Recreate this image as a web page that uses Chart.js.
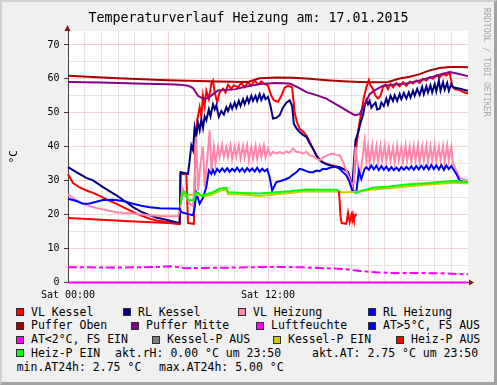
<!DOCTYPE html>
<html>
<head>
<meta charset="utf-8">
<script src="https://cdn.jsdelivr.net/npm/chart.js@4.4.1/dist/chart.umd.min.js"></script>
<style>
  html, body { margin: 0; padding: 0; background: #fff; }
  #wrap { position: relative; width: 497px; height: 385px; background: #f0f0f0; overflow: hidden; font-family: "DejaVu Sans Mono", monospace; }
  #chart { position: absolute; left: 0; top: 0; }
  #title { position: absolute; left: 0; top: 9.5px; width: 497px; text-align: center; font-size: 13.3px; line-height: 16px; color: #000; white-space: pre; }
  #frame { position: absolute; left: 0; top: 0; width: 497px; height: 385px; box-sizing: border-box;
           border-top: 2px solid #d0d0d0; border-left: 2px solid #d0d0d0;
           border-right: 3px solid #a2a2a2; border-bottom: 3px solid #a2a2a2; pointer-events: none; }
  .lg { position: absolute; font-size: 11.5px; line-height: 14px; color: #000; white-space: pre; }
  .sw { position: absolute; width: 6px; height: 6px; border: 1px solid #303030; }
  #credit { position: absolute; left: 482px; top: 8px; writing-mode: vertical-rl; font-size: 8.2px; line-height: 9px; color: #a8a8a8; white-space: pre; }
</style>
</head>
<body>
<div id="wrap">
  <canvas id="chart" width="497" height="300"></canvas>
  <div id="title">Temperaturverlauf Heizung am: 17.01.2015</div>
  <div id="legend"></div>
  <div id="credit">RRDTOOL / TOBI OETIKER</div>
  <div id="frame"></div>
</div>
<script>
const FONT = "'DejaVu Sans Mono', monospace";

// hours of day (0..24) and °C values
const hVLK = [0,0.3,0.7,1.1,1.5,1.9,2.4,2.9,3.4,3.9, 4.4,4.9,5.4,5.9,6.3,6.7,6.75,7.1,7.2,7.55,
  7.65,7.75,7.9,8.0,8.1,8.2,8.3,8.45,8.6,8.7, 8.8,8.95,9.1,9.3,9.45,9.6,9.8,9.95,10.2,10.4,
  10.6,10.8,11.0,11.2,11.4,11.6,11.8,12.0,12.2,12.35, 12.6,12.8,13.0,13.2,13.45,13.6,13.75,13.9,14.1,14.3,
  14.5,14.7,14.9,15.1,15.4,15.7,16.0,16.3,16.6,16.8, 17.0,17.1,17.2,17.3,17.45,17.6,17.75,17.9,18.05,18.15,
  18.3,18.45,18.6,18.75,18.9,19.05,19.2,19.35,19.5,19.7, 19.9,20.1,20.3,20.5,20.7,20.9,21.1,21.3,21.5,21.7,
  21.9,22.1,22.3,22.5,22.7,22.9,23.05,23.2,23.5,23.8, 24];
const vlKessel = [31.9,29.3,28,27.1,26.4,25.5,24.3,23.2,22,20.8, 19.7,18.8,18.2,17.8,17.5,17.2,32,32,17.5,17.3,
  40,47.8,51.7,49,55,52,56.5,54,58.6,59.5, 56,53.2,56,57.1,56,58.3,57,58.1,57.5,58.8,
  57.5,59,58,59.5,58.3,59.3,58.5,58,55,53.7, 53.2,55,57.4,58,57.5,50,47,45.3,44.5,43.4,
  41.5,39.4,37.5,36,35.2,34.7,34.3,34,33.3,32.5, 29.5,28.2,33,40,46,50,54.5,57.5,59.6,58,
  57,55,54.2,55,57.6,58.3,57,58.5,57.5,58.8, 57.8,59,58,59.2,58.6,59.5,58.8,60,59.5,60.5,
  60,61,60.5,61.5,61,61.8,58,57,56.6,56, 55.7];

const hRLK = [0,0.5,1.1,1.5,2.1,2.9,3.4,3.9,4.4,4.9, 5.4,5.9,6.3,6.7,6.75,7.0,7.2,7.3,7.4,7.5,
  7.6,7.7,7.8,7.9,8.0,8.1,8.2,8.3,8.45,8.55, 8.7,8.8,8.9,9.05,9.2,9.35,9.5,9.6,9.75,9.85,
  10.0,10.1,10.25,10.35,10.5,10.6,10.75,10.85,11.0,11.1, 11.25,11.35,11.5,11.6,11.75,11.85,12.0,12.15,12.3,12.5,
  12.7,12.9,13.1,13.3,13.45,13.55,13.7,13.9,14.1,14.3, 14.5,14.7,14.9,15.1,15.4,15.7,16.0,16.3,16.6,16.8,
  16.95,17.05,17.15,17.25,17.4,17.55,17.7,17.8,17.9,18.0, 18.1,18.2,18.3,18.45,18.55,18.7,18.8,18.95,19.1,19.2,
  19.35,19.5,19.6,19.75,19.9,20.0,20.15,20.3,20.45,20.55, 20.7,20.8,20.95,21.1,21.25,21.35,21.5,21.6,21.75,21.85,
  22.0,22.1,22.25,22.35,22.5,22.6,22.75,22.85,23.0,23.1, 23.3,23.6,23.9,24];
const rlKessel = [34,32.5,30.8,30.1,28.1,25.7,24,22.2,20.8,19.8, 19,18.5,18,17.5,32.5,32.3,32,36,40.4,39,
  45.8,43.5,47,44.8,48,45.5,49,47.8,51,49, 52.5,51,52.2,48.8,50.5,49.5,51.7,50.5,52.5,51.2,
  53,51.5,53.5,52,54,52.5,54.5,53,55,53.5, 55,53.5,55.5,53.8,55.3,54,54.7,52,48.3,48.5,
  49.3,51.5,53,53.7,52,46.8,45.5,44.3,43.5,42.9, 41,39.4,37.5,36,35,34.5,34.2,34,33.3,32.5,
  30,28.1,35,41.9,44,47,49.3,52,53.7,52.5, 53.5,51.5,52.2,53,51,51.2,53,52,54.2,52.5,
  55,53.5,55.2,53.5,55.5,54,55.8,54.2,56,54.5, 56.5,55,57,55.3,57.6,55.5,57.8,56,58.1,56,
  58.5,56.3,59.6,56.5,59,56.8,58.8,56.5,58.5,57.5, 57.3,57,56.6,56.6];

const hVLH = [0,0.5,0.9,1.4,1.9,2.4,2.9,3.4,3.9,4.4, 4.9,5.5,6.0,6.6,6.75,6.85,7.0,7.2,7.35,7.5,
  7.6,7.7,7.8,7.95,8.1,8.2,8.35,8.5,8.6,8.75, 8.85,9.0,9.1,9.25,9.35,9.5,9.6,9.75,9.85,10.0,
  10.1,10.25,10.35,10.5,10.6,10.75,10.85,11.0,11.1,11.25, 11.35,11.5,11.6,11.75,11.85,12.0,12.15,12.3,12.5,12.7,
  12.9,13.1,13.3,13.5,13.7,13.9,14.1,14.3,14.5,14.7, 14.9,15.1,15.3,15.5,15.7,15.9,16.1,16.3,16.5,16.7,
  16.9,17.05,17.15,17.25,17.35,17.5,17.6,17.8,17.9,18.0, 18.1,18.25,18.35,18.5,18.6,18.75,18.85,19.0,19.1,19.25,
  19.35,19.5,19.6,19.75,19.85,20.0,20.1,20.25,20.35,20.5, 20.6,20.75,20.85,21.0,21.1,21.25,21.35,21.5,21.6,21.75,
  21.85,22.0,22.1,22.25,22.35,22.5,22.6,22.75,22.85,23.0, 23.1,23.3,23.5,23.75,24];
const vlHeizung = [25.9,24.3,23.2,22.3,21.7,21.2,20.7,20.5,20.3,20.0, 19.8,19.6,19.5,19.5,22,28,26,24.2,23,22.5,
  30,42.9,27.1,35,39.9,28.1,36,44.8,33,40, 35,39.9,37,40.5,37,39.9,37,40.5,36.5,40,
  37,40.4,36.5,40.2,37,40.4,36,40,36.5,40.3, 36.5,40,37,40.4,36.8,39.5,37.5,38.5,38,38.4,
  38,38.6,38.2,39.5,38.5,38.4,38,38.5,37.5,37.2, 36.5,36,36.8,37.3,37.8,38,37.6,37.5,35.5,33,
  30.5,28.1,30,40,36,31,34,41.9,36,40, 35.5,40.4,36,40,35.5,40.2,36,40.4,35.8,40,
  36,39.8,35.5,40.2,36,40,35.6,40.4,36,40, 35.5,40.2,36,40.4,35.6,40,36,40.3,35.5,40,
  36,40.4,35.8,40,36,40.2,35.5,40.4,36,40, 35,33,31,30.3,30];

const hRLH = [0,0.5,0.9,1.3,1.7,2.1,2.7,3.3,3.9,4.4, 4.9,5.5,6.1,6.7,6.8,7.1,7.5,7.6,7.7,7.9,
  8.1,8.3,8.45,8.6,8.7,8.8,8.95,9.1,9.25,9.4, 9.55,9.7,9.85,10.0,10.15,10.3,10.45,10.6,10.75,10.9,
  11.05,11.2,11.35,11.5,11.65,11.8,11.95,12.1,12.25,12.5, 12.8,13.1,13.3,13.5,13.7,13.9,14.1,14.3,14.5,14.7,
  14.9,15.1,15.3,15.5,15.7,15.9,16.1,16.3,16.5,16.7, 16.9,17.05,17.3,17.45,17.6,17.8,17.9,18.05,18.2,18.35,
  18.5,18.65,18.8,18.95,19.1,19.25,19.4,19.55,19.7,19.85, 20.0,20.15,20.3,20.45,20.6,20.75,20.9,21.05,21.2,21.35,
  21.5,21.65,21.8,21.95,22.1,22.25,22.4,22.55,22.7,22.85, 23.0,23.1,23.3,23.5,23.75,24];
const rlHeizung = [24.7,24,23.2,23.3,23.8,24.3,24.4,24,23.2,22.6, 22.2,21.9,21.8,21.7,20.7,20.3,19.8,22,26.2,23.2,
  25,28.1,33,32,33.2,32,33.5,32.6,33.6,32.7, 33.7,32.6,33.5,32.8,33.8,32.7,33.6,32.6,33.7,32.8,
  33.6,32.7,33.8,32.6,33.5,32.8,33.4,31,27.1,29.6, 30,30.5,31,31.8,32.5,33.5,33.2,32.8,32.5,32.5,
  33,32.8,33.5,33.4,33.8,34,34,33.5,32.5,31.6, 29.5,27.1,26.6,33,30.5,33.5,34,33.2,34.5,33.3,
  34.4,33.1,34.3,33.2,34.2,33,34,33.1,33.9,33, 34,33.2,34.1,33.3,34.2,33.2,34.3,33.3,34.4,33.4,
  34.5,33.3,34.6,33.4,34.5,33.3,34.6,33.2,34.5,33.4, 34.3,33.5,32,30,29.6,29.6];

const hPO = [0,3,6,9,10.8,11.5,12.5,13.5,14.5,15.5,16.5,17.5,18.5,19.2,19.9,20.5,21.1,21.7,22.3,22.9,23.5,24];
const pufferOben = [60.9,60.2,59.6,59.2,59.1,60.2,60.4,60.3,60,59.6,59.3,59.1,59.0,59.1,60.1,60.6,61.4,62.5,63.2,63.5,63.5,63.4];

const hPM = [0,2,4,6,6.7,7.2,7.5,7.8,8.1,8.4, 8.7,9.0,9.5,10,10.5,11,11.5,12.5,13.3,13.8,
  14.3,14.9,15.5,16.3,16.8,17.2,17.5,17.8,18.1,18.4, 18.9,19.5,20.3,21.1,21.9,22.5,22.9,23.4,24];
const pufferMitte = [59.1,58.9,58.6,58.4,58.3,58,57.3,55,54.2,54.3, 55.5,56.6,56.8,56.9,57.5,58,58.5,58.8,58.6,57.5,
  56.1,55.2,54.2,51.9,50.4,49.3,49.6,52.5,55.5,56.6, 58,58.3,58.6,59.5,60.6,61.5,62,61.5,60.8];

const hLF = [0, 24];
const luftfeuchte = [0, 0];

const hAT = [0,3,5.5,6.1,6.5,7,8,10,12,14,15.5,16.5,17.5,18.5,19.5,21,22.5,24];
const aussen = [4.5,4.4,4.6,4.8,4.6,4.2,4.3,4.4,4.6,4.5,4.2,4.0,3.4,3.0,2.8,2.8,2.7,2.4];

const hKPE = [6.8,7.0,7.6,7.8,8.3,8.7,9.1,9.5,9.6,10.5,11.5,12.5,13.3,14.3,15.2,16.1,16.5,17.0,17.4,18.3,19.3,20.3,21.3,22.3,23.2,24];
const kesselPEin = [25.5,25.8,25.8,25.8,25.5,26,27,27.4,26,25.9,25.5,26,26.4,26.9,26.8,26.8,26.5,26.7,26.8,27.4,27.8,28.3,28.7,29.1,29.4,29.2];

const hHPA = [0,2,4,6,6.7,6.72,16.25,16.3,16.35,16.42,16.7,16.8,16.9,17.0,17.05,17.1,17.15,17.3];
const heizPAus = [19,18.5,18,17.5,17.2,null,27,24,19.5,17.5,17.3,20.5,17.8,19.8,18.5,20,18.8,20.3];

const hHPE = [6.75,6.9,7.05,7.2,7.55,7.65,7.8,8.0,8.3,8.7, 9.1,9.5,9.6,10.5,11.5,12.5,13.3,14.3,15.2,16.1,
  16.25,16.3,17.2,17.6,18.3,19.3,20.3,21.3,22.3,23.2, 24];
const heizPEin = [23,26.5,26.7,24.2,24.2,26.2,26.5,25.5,26,26.6, 27.6,27.9,26.6,26.4,26.2,26.6,26.9,27.4,27.3,27.3,
  27,null,26.2,27,27.9,28.3,28.9,29.2,29.6,29.9, 29.6];

const seriesNames = ["VL Kessel", "RL Kessel", "VL Heizung", "RL Heizung", "Puffer Oben", "Puffer Mitte",
  "Luftfeuchte", "AT>5°C, FS AUS", "AT<2°C, FS EIN", "Kessel-P AUS", "Kessel-P EIN", "Heiz-P AUS", "Heiz-P EIN"];
const seriesColors = ["#ff0000", "#000080", "#ff88aa", "#0000ff", "#aa0000", "#880088",
  "#ff00ff", "#0000ff", "#ff00ff", "#808080", "#cccc00", "#ff0000", "#00ff00"];
const seriesHours = [hVLK, hRLK, hVLH, hRLH, hPO, hPM, hLF, [], hAT, [], hKPE, hHPA, hHPE];
const seriesValues = [vlKessel, rlKessel, vlHeizung, rlHeizung, pufferOben, pufferMitte, luftfeuchte, [], aussen, [], kesselPEin, heizPAus, heizPEin];

const xLabelHours = [0, 12];
const xLabelTexts = ["Sat 00:00", "Sat 12:00"];
const legendNotes = ["akt.rH: 0.00 °C um 23:50", "akt.AT: 2.75 °C um 23:50", "min.AT24h: 2.75 °C", "max.AT24h: 5.00 °C"];

const minorGrid = "rgba(170,170,170,0.3)";
const majorGrid = "rgba(225,110,110,0.3)";

const datasets = seriesNames.map((name, i) => ({
  label: name,
  data: seriesHours[i].map((h, k) => ({ x: h, y: seriesValues[i][k] })),
  borderColor: seriesColors[i],
  backgroundColor: seriesColors[i],
  borderWidth: 2,
  borderDash: i === 8 ? [9, 3, 4, 3] : [],
  pointRadius: 0,
  tension: 0,
  clip: 3,
  order: seriesNames.length - i,
}));

const rrdFrame = {
  id: "rrdFrame",
  beforeDraw(chart) {
    const { ctx, chartArea: a } = chart;
    ctx.save();
    ctx.fillStyle = "#ffffff";
    ctx.fillRect(a.left, a.top, a.right - a.left, a.bottom - a.top);
    ctx.restore();
  },
  afterDraw(chart) {
    const { ctx, chartArea: a } = chart;
    const x0 = Math.round(a.left) - 0.5;
    const y0 = a.bottom;
    ctx.save();
    ctx.strokeStyle = "#404040";
    ctx.lineWidth = 1;
    ctx.beginPath();
    ctx.moveTo(a.right, y0);
    ctx.lineTo(a.right + 2, y0);
    ctx.stroke();
    ctx.fillStyle = "#8a1414";
    ctx.beginPath();
    ctx.moveTo(x0 - 3, a.top);
    ctx.lineTo(x0 + 3, a.top);
    ctx.lineTo(x0, a.top - 6);
    ctx.closePath();
    ctx.fill();
    ctx.beginPath();
    ctx.moveTo(a.right + 1, y0 - 3);
    ctx.lineTo(a.right + 1, y0 + 3);
    ctx.lineTo(a.right + 6, y0);
    ctx.closePath();
    ctx.fill();
    ctx.restore();
  },
};

new Chart(document.getElementById("chart"), {
  type: "line",
  data: { datasets },
  options: {
    responsive: false,
    animation: false,
    devicePixelRatio: 1,
    layout: { padding: { top: 31, right: 29, bottom: 0, left: 0 } },
    plugins: {
      legend: { display: false },
      tooltip: { enabled: false },
      title: { display: false },
    },
    scales: {
      x: {
        type: "linear",
        min: 0,
        max: 24,
        afterFit(s) { s.height = 17.5; },
        border: { color: "#404040" },
        grid: {
          drawTicks: false,
          color: (c) => (c.tick.value === 24 ? "rgba(0,0,0,0)" : c.tick.value % 6 === 0 ? majorGrid : minorGrid),
        },
        ticks: {
          stepSize: 1,
          autoSkip: false,
          maxRotation: 0,
          padding: 7,
          color: "#000",
          font: { family: FONT, size: 10 },
          callback: (v) => {
            const k = xLabelHours.indexOf(v);
            return k >= 0 ? xLabelTexts[k] : "";
          },
        },
      },
      y: {
        min: 0,
        max: 74.1,
        afterFit(s) { s.width = 68; },
        afterBuildTicks(s) { s.ticks = s.ticks.filter((t) => t.value % 5 === 0); },
        border: { color: "#404040" },
        grid: {
          tickLength: 4,
          color: (c) => (c.tick.value % 10 === 0 ? majorGrid : minorGrid),
          tickColor: (c) => (c.tick.value % 10 === 0 ? "#404040" : "rgba(0,0,0,0)"),
        },
        ticks: {
          stepSize: 5,
          padding: 4.5,
          color: "#000",
          font: { family: FONT, size: 10 },
          callback: (v) => (v % 10 === 0 ? String(v) : ""),
        },
        title: {
          display: true,
          text: "°C",
          color: "#000",
          font: { family: FONT, size: 11 },
          padding: { top: 7.5, bottom: 0 },
        },
      },
    },
  },
  plugins: [rrdFrame],
});

// legend in the rrdtool layout
const legendRows = [[0, 1, 2, 3], [4, 5, 6, 7], [8, 9, 10, 11], [12]];
const legendTextX = [[31, 138, 253, 383], [31, 146, 271, 383], [31, 167, 288, 411], [31]];
const legendRowY = [311.5, 325.3, 339, 352.8, 367.2];
const noteX = [115, 312, 16.7, 159];
const noteRow = [3, 3, 4, 4];

const legendBox = document.getElementById("legend");
function addText(text, x, cy) {
  const el = document.createElement("div");
  el.className = "lg";
  el.textContent = text;
  el.style.left = x + "px";
  el.style.top = (cy - 7) + "px";
  legendBox.appendChild(el);
}
legendRows.forEach((row, r) => {
  row.forEach((idx, c) => {
    const x = legendTextX[r][c];
    const sw = document.createElement("div");
    sw.className = "sw";
    sw.style.background = seriesColors[idx];
    sw.style.left = (x - 15) + "px";
    sw.style.top = (legendRowY[r] - 3.5) + "px";
    legendBox.appendChild(sw);
    addText(seriesNames[idx], x, legendRowY[r]);
  });
});
legendNotes.forEach((t, i) => addText(t, noteX[i], legendRowY[noteRow[i]]));
</script>
</body>
</html>
